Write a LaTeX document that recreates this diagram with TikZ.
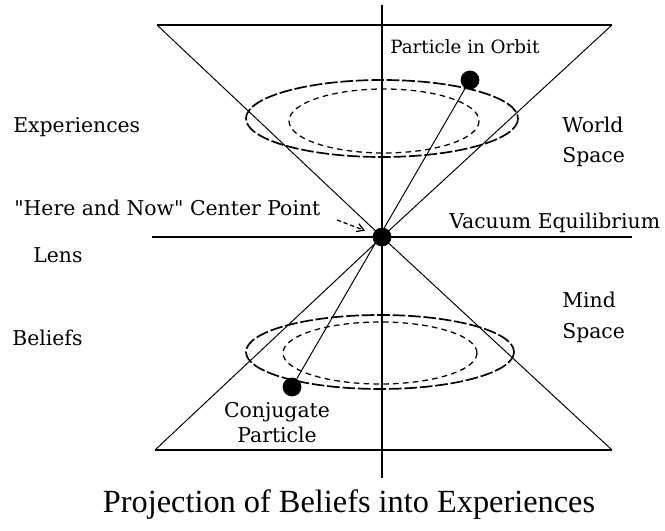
\documentclass[tikz,border=0pt]{standalone}
\usepackage{fontspec}
\newfontfamily\labelfont{DejaVu Serif}
\newfontfamily\titlefont{Liberation Serif}
\usetikzlibrary{arrows.meta}
\tikzset{
  lbl/.style={font=\labelfont\fontsize{14.5}{21}\selectfont, inner sep=0pt, align=left},
  axisline/.style={line width=1.4pt},
  coneline/.style={line width=0.7pt},
  particle/.style={circle, fill=black, inner sep=0pt, minimum size=0.47cm},
  orbit/.style={line width=1.2pt, dash pattern=on 9pt off 2pt},
  innerorbit/.style={line width=0.9pt, dash pattern=on 4pt off 3pt},
}

\begin{document}
\begin{tikzpicture}[x=0.025cm, y=-0.025cm]
  \useasboundingbox (0,0) rectangle (665,531);
  % Axes
  \draw[axisline] (382,5) -- (382,478);
  \draw[axisline] (152,237) -- (632,237);
  % Centre point
  \node[particle] (ctr) at (382,237) {};
  % Cones (world space above, mind space below)
  \coordinate (tl) at (157,25);
  \coordinate (tr) at (612,25);
  \coordinate (bl) at (155,450);
  \coordinate (br) at (612,450);
  \draw[axisline] (tl) -- (tr);
  \draw[coneline] (tl) -- (ctr.center) -- (tr);
  \draw[axisline] (bl) -- (br);
  \draw[coneline] (bl) -- (ctr.center) -- (br);
  % Orbits
  \draw[orbit] (382,118.5) ellipse (136 and 38.5);
  \draw[innerorbit] (384,121) ellipse (95 and 32);
  \draw[orbit] (380,352) ellipse (134 and 37);
  \draw[innerorbit] (380,353) ellipse (97 and 31);
  % Particles
  \node[particle] (orb) at (470,80) {};
  \node[particle] (conj) at (292,387) {};
  \draw[coneline] (orb) -- (conj);
  % Labels
  \node[lbl, anchor=west, font=\labelfont\fontsize{13}{18}\selectfont] (orbtxt) at (390,47) {Particle in Orbit};
  \node[lbl, anchor=west] (exp) at (13,127) {Experiences};
  \node[lbl, anchor=west] (world) at (562,142) {World\\Space};
  \node[lbl, anchor=west] (here) at (14,208) {"Here and Now" Center Point};
  \node[lbl, anchor=west] (vac) at (449,223) {Vacuum Equilibrium};
  \node[lbl, anchor=west] (lens) at (33,255) {Lens};
  \node[lbl, anchor=west, font=\labelfont\fontsize{14.5}{22}\selectfont] (mind) at (562,317.5) {Mind\\Space};
  \node[lbl, anchor=west] (bel) at (12,338) {Beliefs};
  \node[lbl, align=center, font=\labelfont\fontsize{14.5}{18}\selectfont] (conjtxt) at (277,422.5) {Conjugate\\Particle};
  % Pointer to the centre
  \coordinate (herept) at (337,220);
  \draw[line width=0.9pt, dash pattern=on 3pt off 2pt, -{Straight Barb[length=5pt,width=6pt]}, shorten >=6pt] (herept) -- (ctr);
  % Caption
  \node[font=\titlefont\fontsize{23}{27}\selectfont, inner sep=0pt] (title) at (349,505) {Projection of Beliefs into Experiences};
\end{tikzpicture}
\end{document}
